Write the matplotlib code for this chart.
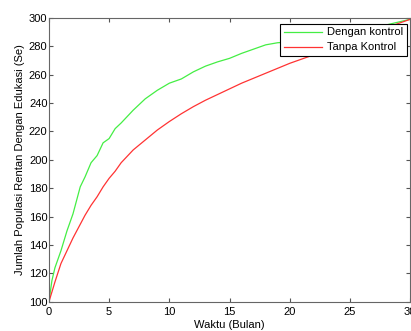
import matplotlib
matplotlib.use("Agg")
import matplotlib.pyplot as plt

# waktu (bulan) dan nilai Se yang dibaca dari gambar
t_kontrol = [0, 0.25, 0.5, 1, 1.5, 2, 2.6, 3, 3.5, 4, 4.5, 5, 5.5, 6, 7, 8, 9, 10,
             11, 12, 13, 14, 15, 16, 17, 18, 19, 20, 22, 24, 26, 28.5, 30]
se_kontrol = [100, 115, 124, 136, 150, 162, 181, 188, 198, 203, 212, 215, 222, 226,
              235, 243, 249, 254, 257, 262, 266, 269, 271.5, 275, 278, 281, 282.5, 283,
              285, 288, 291, 296, 299]

t_tanpa = [0, 0.25, 0.5, 1, 1.5, 2, 2.5, 3, 3.5, 4, 4.5, 5, 5.5, 6, 6.5, 7, 8, 9,
           10, 11, 12, 13, 14, 15, 16, 17, 18, 20, 22, 24, 26, 28, 30]
se_tanpa = [100, 107, 114, 127, 136, 145, 153, 161, 168, 174, 181, 187, 192, 198,
            202.5, 207, 214, 221, 227, 232.5, 237.5, 242, 246, 250, 254, 257.5, 261,
            268, 274, 280, 286, 293, 299]

plt.rcParams['font.family'] = ['Liberation Sans', 'DejaVu Sans']
plt.rcParams['font.size'] = 8

fig = plt.figure(figsize=(4.11, 3.31), dpi=100)
ax = fig.add_axes([0.119, 0.088, 0.879, 0.858])

ax.plot(t_kontrol, se_kontrol, color='#44ee44', lw=0.9, label='Dengan kontrol')
ax.plot(t_tanpa, se_tanpa, color='#ff3333', lw=0.9, label='Tanpa Kontrol')

ax.set_xlim(0, 30)
ax.set_ylim(100, 300)
ax.set_xticks(range(0, 31, 5))
ax.set_yticks(range(100, 301, 20))
ax.tick_params(direction='in', top=True, right=True, length=3, color='#555555')
ax.tick_params(axis='x', pad=4)
ax.tick_params(axis='y', pad=1)
for s in ax.spines.values():
    s.set_color('#666666')
    s.set_linewidth(0.8)

ax.set_xlabel('Waktu (Bulan)', labelpad=2)
ax.set_ylabel('Jumlah Populasi Rentan Dengan Edukasi (Se)', labelpad=3)

leg = ax.legend(loc='upper right', bbox_to_anchor=(0.99, 0.98), fancybox=False,
                framealpha=1, borderpad=0.35, labelspacing=0.45, handlelength=3.4,
                handletextpad=0.4, fontsize=8, borderaxespad=0)
leg.get_frame().set_edgecolor('black')
leg.get_frame().set_linewidth(0.8)

plt.savefig('out.png', dpi=100)
